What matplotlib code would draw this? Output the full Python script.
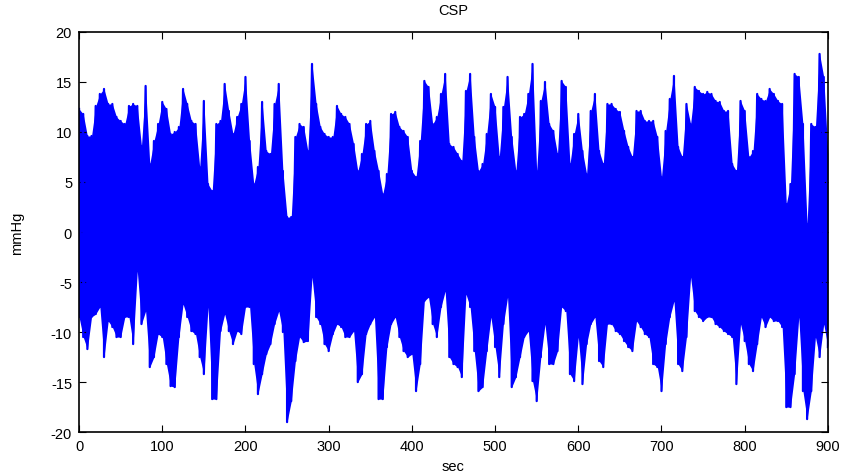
import numpy as np
import matplotlib
matplotlib.use("Agg")
import matplotlib.pyplot as plt

plt.rcParams['font.family'] = ['Liberation Sans', 'DejaVu Sans']
plt.rcParams['axes.unicode_minus'] = False

# sample times (every 5 sec) and the peak / trough at each one
t = np.arange(0, 905, 5)
peak = [12.3, 11.8, 9.6, 9.6, 12.6, 13.8, 14.3, 12.8, 12.8, 11.5,
        11.1, 10.8, 12.6, 12.8, 12.6, 8.6, 14.6, 6.8, 9.1, 10.8,
        13.0, 12.3, 9.8, 10.0, 10.5, 14.3, 12.8, 11.1, 10.8, 6.5,
        13.1, 4.8, 4.1, 10.8, 11.1, 14.8, 12.1, 9.8, 11.5, 12.8,
        15.5, 9.1, 4.8, 6.5, 13.0, 8.1, 7.8, 12.8, 14.8, 6.1,
        1.5, 1.5, 9.5, 10.8, 10.5, 8.1, 16.8, 12.8, 10.5, 9.8,
        9.5, 9.5, 12.6, 11.8, 11.5, 10.8, 8.8, 6.1, 7.8, 10.8,
        11.1, 8.1, 6.1, 3.8, 5.8, 11.8, 12.0, 10.5, 10.1, 9.5,
        6.1, 5.5, 9.1, 15.1, 14.5, 10.8, 11.5, 13.8, 15.8, 8.8,
        8.5, 7.8, 7.1, 14.1, 15.8, 9.5, 6.1, 6.8, 9.8, 13.8,
        12.5, 7.5, 12.5, 15.5, 9.5, 6.1, 11.5, 11.8, 13.8, 16.8,
        6.1, 13.1, 15.0, 10.8, 10.1, 7.8, 15.1, 14.5, 6.8, 9.8,
        11.8, 8.1, 5.8, 12.1, 13.8, 8.1, 6.8, 12.8, 12.8, 12.3,
        12.0, 10.1, 8.5, 7.5, 12.1, 12.1, 11.1, 11.1, 11.1, 9.5,
        5.5, 10.1, 13.3, 15.6, 8.5, 7.5, 12.8, 10.8, 14.5, 14.1,
        13.8, 14.0, 13.8, 13.1, 13.0, 12.1, 12.1, 6.8, 6.1, 13.1,
        12.1, 7.5, 8.1, 13.8, 13.3, 13.1, 14.3, 13.8, 13.1, 12.8,
        2.8, 4.8, 15.8, 15.5, 10.8, 0.8, 10.8, 10.5, 17.8, 15.5,
        7.8]
trough = [-8.5, -10.5, -11.7, -8.5, -8.2, -7.5, -12.5, -8.9, -9.5, -10.5,
          -10.5, -8.5, -8.5, -11.2, -3.9, -9.2, -7.9, -13.5, -12.5, -10.2,
          -10.5, -13.2, -15.4, -15.5, -10.5, -7.2, -8.5, -9.9, -10.2, -12.5,
          -14.2, -7.5, -16.7, -16.7, -9.9, -8.2, -9.9, -11.2, -9.9, -10.2,
          -7.5, -7.5, -13.2, -16.2, -14.2, -12.2, -11.2, -9.2, -7.9, -10.0,
          -19.0, -16.9, -12.9, -10.5, -11.0, -10.9, -4.5, -8.5, -9.2, -11.2,
          -11.9, -10.2, -9.2, -9.5, -10.5, -10.5, -9.9, -15.0, -14.2, -10.2,
          -9.2, -8.5, -16.7, -16.7, -11.5, -9.2, -8.5, -10.5, -11.9, -12.5,
          -12.2, -15.9, -13.2, -6.9, -6.5, -9.2, -10.5, -7.5, -5.9, -12.5,
          -13.2, -13.5, -14.5, -6.2, -7.5, -11.9, -15.9, -15.5, -11.9, -8.5,
          -11.5, -14.5, -9.2, -6.5, -15.5, -14.5, -12.5, -10.5, -9.9, -14.9,
          -16.9, -12.5, -9.2, -13.2, -13.2, -11.9, -7.5, -7.9, -14.2, -14.9,
          -10.5, -15.2, -11.2, -9.2, -8.5, -12.9, -13.5, -9.2, -9.2, -9.9,
          -10.2, -10.9, -11.5, -11.9, -8.9, -9.5, -10.2, -10.5, -13.2, -13.5,
          -15.9, -11.2, -8.5, -6.9, -13.2, -13.9, -10.5, -4.5, -7.9, -8.5,
          -8.9, -8.5, -8.5, -9.2, -9.5, -9.9, -10.2, -10.5, -15.2, -9.2,
          -10.9, -13.2, -13.9, -11.2, -8.5, -9.5, -8.5, -8.9, -8.9, -9.5,
          -17.5, -17.5, -14.2, -8.5, -15.9, -18.7, -15.9, -10.5, -12.5, -9.2,
          -11.5]

x = np.repeat(t, 2)
y = np.column_stack([peak, trough]).ravel()

fig = plt.figure(figsize=(8.5, 4.77), dpi=100)
ax = fig.add_axes([0.093, 0.092, 0.881, 0.839])
ax.fill_between(t, trough, peak, color='#0000ff', linewidth=0)
ax.plot(x, y, color='#0000ff', linewidth=1.6)
ax.set_xlim(0, 900)
ax.set_ylim(-20, 20)
ax.set_xticks(np.arange(0, 901, 100))
ax.set_yticks(np.arange(-20, 21, 5))
ax.tick_params(direction='in', top=True, right=True, labelsize=10.5, length=5, pad=5)
for s in ax.spines.values():
    s.set_linewidth(1.2)
ax.set_title('CSP', fontsize=10.5, pad=13)
ax.set_xlabel('sec', fontsize=10.5, labelpad=4)
ax.set_ylabel('mmHg', fontsize=10.5, labelpad=19)
fig.savefig('out.png', dpi=100)
